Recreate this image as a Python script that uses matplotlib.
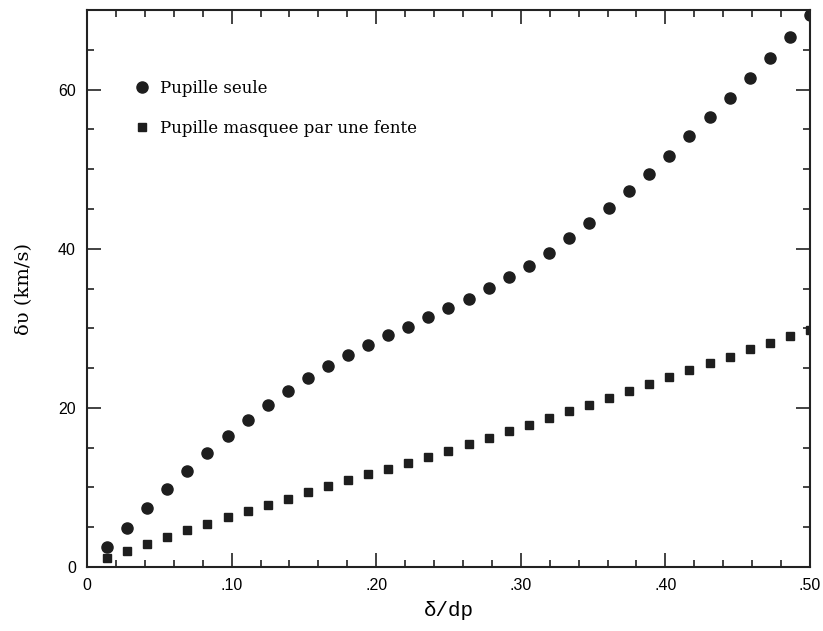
import matplotlib
matplotlib.use('Agg')
from matplotlib import pyplot as plt
from matplotlib.ticker import MultipleLocator, FuncFormatter

# x = k/72, k = 1..36
k = list(range(1, 37))
x = [i / 72 for i in k]

seule = [2.54, 4.93, 7.36, 9.77, 12.07, 14.29, 16.42, 18.46, 20.39, 22.18,
         23.77, 25.28, 26.69, 27.94, 29.16, 30.11, 31.45, 32.54, 33.75, 35.05,
         36.47, 37.84, 39.51, 41.31, 43.19, 45.15, 47.24, 49.46, 51.72, 54.14,
         56.52, 58.98, 61.44, 63.95, 66.58, 69.4]
fente = [1.09, 2.0, 2.92, 3.8, 4.64, 5.43, 6.27, 7.06, 7.81, 8.61,
         9.4, 10.15, 10.9, 11.65, 12.37, 13.07, 13.87, 14.62, 15.41, 16.25,
         17.04, 17.88, 18.67, 19.55, 20.34, 21.27, 22.14, 22.97, 23.9, 24.72,
         25.6, 26.44, 27.36, 28.2, 28.99, 29.79]

fig = plt.figure(figsize=(8.23, 6.31), dpi=100)
ax = fig.add_axes([0.1057, 0.1014, 0.8785, 0.8826])

l1, = ax.plot(x, seule, 'o', c='#1e1e1e', ms=8, label='Pupille seule')
l2, = ax.plot(x, fente, 's', c='#1e1e1e', ms=5.5, label='Pupille masquee par une fente')
l1.set_clip_path(ax.patch)
l2.set_clip_path(ax.patch)

ax.set_xlim(0, 0.5)
ax.set_ylim(0, 70)
ax.xaxis.set_major_locator(MultipleLocator(0.1))
ax.xaxis.set_minor_locator(MultipleLocator(0.02))
ax.yaxis.set_major_locator(MultipleLocator(20))
ax.yaxis.set_minor_locator(MultipleLocator(5))
ax.xaxis.set_major_formatter(FuncFormatter(lambda v, p: '0' if abs(v) < 1e-9 else ('%.2f' % v)[1:]))
ax.tick_params(which='both', direction='in', top=True, right=True, width=1.2, color='#222222')
ax.tick_params(which='major', length=10, labelsize=11.5, pad=8)
ax.tick_params(which='minor', length=5)
for s in ax.spines.values():
    s.set_linewidth(1.5)
    s.set_color('#222222')
for t in ax.get_xticklabels() + ax.get_yticklabels():
    t.set_family('Liberation Sans')

ax.set_xlabel('δ/dp', family='Liberation Mono', fontsize=15, labelpad=6)
ax.set_ylabel('δυ (km/s)', family='DejaVu Serif', fontsize=14, labelpad=18)

leg = ax.legend(loc='upper left', bbox_to_anchor=(0.055, 0.886), frameon=False,
                prop={'family': 'DejaVu Serif', 'size': 12}, labelspacing=1.35,
                handletextpad=0.6, handlelength=1.0, borderaxespad=0)

fig.savefig('out.png', dpi=100)
